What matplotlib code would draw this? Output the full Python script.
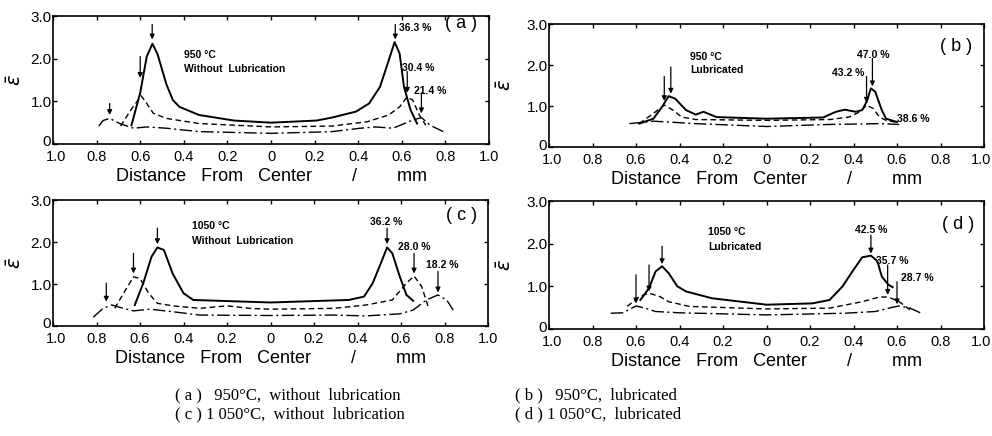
import matplotlib
matplotlib.use("Agg")
import matplotlib.pyplot as plt
from matplotlib.transforms import ScaledTranslation

# ---------------- data ----------------
xticks = [-1.0, -0.8, -0.6, -0.4, -0.2, 0.0, 0.2, 0.4, 0.6, 0.8, 1.0]
xticklabels = ["1.0", "0.8", "0.6", "0.4", "0.2", "0", "0.2", "0.4", "0.6", "0.8", "1.0"]
yticks = [0, 1.0, 2.0, 3.0]
yticklabels = ["0", "1.0", "2.0", "3.0"]

# (a) 950 C, without lubrication
a_solid_x = [-0.64, -0.60, -0.57, -0.544, -0.52, -0.48, -0.45, -0.42, -0.33, -0.17, 0.0, 0.21, 0.28, 0.39, 0.45, 0.50, 0.54, 0.567, 0.59, 0.61, 0.64, 0.67]
a_solid_y = [0.44, 1.20, 2.05, 2.35, 2.10, 1.40, 1.03, 0.87, 0.68, 0.55, 0.50, 0.55, 0.62, 0.76, 0.95, 1.34, 1.96, 2.39, 2.12, 1.34, 0.80, 0.48]
a_dash_x = [-0.69, -0.64, -0.595, -0.57, -0.54, -0.48, -0.33, 0.0, 0.28, 0.44, 0.54, 0.59, 0.624, 0.65, 0.68, 0.71]
a_dash_y = [0.42, 0.82, 1.13, 0.95, 0.72, 0.60, 0.48, 0.40, 0.42, 0.52, 0.68, 0.87, 1.10, 1.03, 0.68, 0.44]
a_dd_x = [-0.79, -0.77, -0.74, -0.69, -0.63, -0.57, -0.48, -0.33, 0.0, 0.28, 0.41, 0.48, 0.56, 0.65, 0.69, 0.73, 0.79]
a_dd_y = [0.42, 0.55, 0.60, 0.47, 0.37, 0.40, 0.37, 0.29, 0.25, 0.29, 0.37, 0.40, 0.37, 0.56, 0.62, 0.44, 0.29]

# (b) 950 C, lubricated
b_solid_x = [-0.585, -0.52, -0.48, -0.45, -0.42, -0.37, -0.325, -0.29, -0.23, 0.0, 0.26, 0.32, 0.36, 0.41, 0.44, 0.46, 0.48, 0.50, 0.53, 0.55, 0.60]
b_solid_y = [0.57, 0.69, 0.98, 1.24, 1.18, 0.90, 0.79, 0.86, 0.73, 0.69, 0.72, 0.86, 0.91, 0.86, 0.90, 1.10, 1.43, 1.35, 0.90, 0.69, 0.61]
b_dash_x = [-0.585, -0.52, -0.47, -0.43, -0.39, -0.325, 0.0, 0.29, 0.38, 0.43, 0.46, 0.49, 0.52, 0.55, 0.60]
b_dash_y = [0.57, 0.82, 1.02, 0.90, 0.73, 0.67, 0.65, 0.67, 0.73, 0.86, 1.02, 0.94, 0.73, 0.65, 0.60]
b_dd_x = [-0.63, -0.52, -0.325, 0.0, 0.29, 0.52, 0.61]
b_dd_y = [0.57, 0.63, 0.57, 0.50, 0.55, 0.57, 0.55]

# (c) 1050 C, without lubrication
c_solid_x = [-0.624, -0.585, -0.547, -0.52, -0.49, -0.45, -0.40, -0.355, 0.0, 0.36, 0.43, 0.47, 0.51, 0.536, 0.56, 0.595, 0.625, 0.656]
c_solid_y = [0.50, 1.02, 1.65, 1.87, 1.81, 1.25, 0.78, 0.62, 0.56, 0.62, 0.70, 1.02, 1.53, 1.87, 1.73, 1.17, 0.74, 0.60]
c_dash_x = [-0.716, -0.68, -0.63, -0.60, -0.56, -0.52, -0.45, -0.325, -0.2, -0.095, 0.0, 0.29, 0.44, 0.56, 0.625, 0.66, 0.695, 0.725]
c_dash_y = [0.42, 0.74, 1.17, 1.13, 0.78, 0.54, 0.48, 0.42, 0.48, 0.42, 0.40, 0.42, 0.50, 0.62, 1.02, 1.19, 0.94, 0.46]
c_dd_x = [-0.815, -0.77, -0.73, -0.69, -0.63, -0.555, -0.45, -0.325, 0.0, 0.29, 0.44, 0.595, 0.656, 0.717, 0.77, 0.81, 0.84]
c_dd_y = [0.21, 0.42, 0.50, 0.44, 0.36, 0.40, 0.34, 0.26, 0.25, 0.26, 0.24, 0.29, 0.38, 0.62, 0.74, 0.62, 0.38]

# (d) 1050 C, lubricated
d_solid_x = [-0.58, -0.54, -0.51, -0.48, -0.45, -0.41, -0.37, -0.25, 0.0, 0.21, 0.29, 0.35, 0.395, 0.44, 0.48, 0.51, 0.53, 0.56, 0.58]
d_solid_y = [0.68, 0.96, 1.35, 1.47, 1.31, 1.00, 0.88, 0.72, 0.57, 0.60, 0.68, 1.00, 1.35, 1.68, 1.72, 1.59, 1.23, 1.04, 0.98]
d_dash_x = [-0.64, -0.585, -0.54, -0.49, -0.45, -0.355, 0.0, 0.29, 0.44, 0.52, 0.56, 0.61, 0.66]
d_dash_y = [0.53, 0.76, 0.84, 0.76, 0.64, 0.53, 0.47, 0.49, 0.64, 0.75, 0.75, 0.64, 0.45]
d_dd_x = [-0.716, -0.66, -0.60, -0.56, -0.51, -0.40, 0.0, 0.36, 0.50, 0.58, 0.61, 0.66, 0.72]
d_dd_y = [0.37, 0.38, 0.54, 0.49, 0.41, 0.38, 0.33, 0.37, 0.41, 0.51, 0.54, 0.49, 0.35]

panel_letters = ["a", "b", "c", "d"]
panel_temps = ["950 °C", "950 °C", "1050 °C", "1050 °C"]
panel_conds = ["Without  Lubrication", "Lubricated", "Without  Lubrication", "Lubricated"]

# reduction marks: (arrow x, arrow top y, arrow tip y, label)
a_marks = [(-0.74, 0.95, 0.68, None), (-0.60, 2.05, 1.55, None), (-0.545, 2.80, 2.45, None),
           (0.57, 2.80, 2.45, "36.3 %"), (0.625, 1.70, 1.20, "30.4 %"), (0.69, 1.20, 0.72, "21.4 %")]
a_label_pos = {"36.3 %": (0.585, 2.72, "left"), "30.4 %": (0.60, 1.78, "left"), "21.4 %": (0.655, 1.25, "left")}
b_marks = [(-0.47, 1.72, 1.12, None), (-0.44, 1.95, 1.30, None),
           (0.46, 1.72, 1.08, "43.2 %"), (0.487, 2.16, 1.48, "47.0 %"), (None, None, None, "38.6 %")]
b_label_pos = {"43.2 %": (0.45, 1.80, "right"), "47.0 %": (0.49, 2.25, "center"), "38.6 %": (0.60, 0.68, "left")}
c_marks = [(-0.755, 1.02, 0.58, None), (-0.63, 1.73, 1.25, None), (-0.52, 2.33, 1.95, None),
           (0.536, 2.33, 1.95, "36.2 %"), (0.66, 1.73, 1.25, "28.0 %"), (0.77, 1.30, 0.80, "18.2 %")]
c_label_pos = {"36.2 %": (0.53, 2.48, "center"), "28.0 %": (0.66, 1.88, "center"), "18.2 %": (0.79, 1.45, "center")}
d_marks = [(-0.60, 1.27, 0.60, None), (-0.54, 1.50, 0.88, None), (-0.48, 1.94, 1.52, None),
           (0.48, 2.20, 1.77, "42.5 %"), (0.557, 1.50, 0.80, "35.7 %"), (0.60, 1.11, 0.58, "28.7 %")]
d_label_pos = {"42.5 %": (0.48, 2.33, "center"), "35.7 %": (0.58, 1.60, "center"), "28.7 %": (0.62, 1.20, "left")}

captions = ["( a )   950°C,  without  lubrication", "( b )   950°C,  lubricated",
            "( c ) 1 050°C,  without  lubrication", "( d ) 1 050°C,  lubricated"]

# ---------------- figure ----------------
W, H = 992, 436
fig = plt.figure(figsize=(W / 100, H / 100), dpi=100)
plt.rcParams['font.family'] = ['Liberation Sans', 'DejaVu Sans']

boxes = [(53, 16, 489, 144), (549, 24, 984, 147), (53, 200, 488, 326), (549, 201, 984, 329)]
series = [
    (a_solid_x, a_solid_y, a_dash_x, a_dash_y, a_dd_x, a_dd_y, a_marks, a_label_pos),
    (b_solid_x, b_solid_y, b_dash_x, b_dash_y, b_dd_x, b_dd_y, b_marks, b_label_pos),
    (c_solid_x, c_solid_y, c_dash_x, c_dash_y, c_dd_x, c_dd_y, c_marks, c_label_pos),
    (d_solid_x, d_solid_y, d_dash_x, d_dash_y, d_dd_x, d_dd_y, d_marks, d_label_pos),
]
text_pos = [(-0.40, 2.08, 1.75), (-0.35, 2.20, 1.88), (-0.36, 2.38, 2.03), (-0.27, 2.28, 1.93)]
letter_pos = [(0.87, 2.82), (0.87, 2.45), (0.88, 2.62), (0.88, 2.45)]

for i, (l, t, r, b) in enumerate(boxes):
    ax = fig.add_axes([l / W, 1 - b / H, (r - l) / W, (b - t) / H])
    sx, sy, dx, dy, ddx, ddy, marks, lpos = series[i]
    ax.plot(sx, sy, color='black', lw=1.4, ls='-')
    ax.plot(dx, dy, color='black', lw=1.0, ls=(0, (4, 2.5)))
    ax.plot(ddx, ddy, color='black', lw=1.0, ls=(0, (9, 2.5, 1.5, 2.5)))
    ax.set_xlim(-1, 1)
    ax.set_ylim(0, 3.0)
    ax.set_xticks(xticks)
    ax.set_xticklabels(xticklabels, fontsize=10.5)
    ax.set_yticks(yticks)
    ax.set_yticklabels(yticklabels, fontsize=11)
    ax.tick_params(direction='in', length=3, width=1.0, top=True, right=True)
    ax.tick_params(axis='x', pad=4)
    ax.tick_params(axis='y', pad=1)
    # nudge the corner labels so they do not collide
    xl = ax.get_xticklabels()
    xl[0].set_transform(xl[0].get_transform() + ScaledTranslation(3 / 100, 0, fig.dpi_scale_trans))
    if i in (1, 3):
        xl[-1].set_transform(xl[-1].get_transform() + ScaledTranslation(-3 / 100, 0, fig.dpi_scale_trans))
    yl = ax.get_yticklabels()
    yl[0].set_transform(yl[0].get_transform() + ScaledTranslation(-1 / 100, 3 / 100, fig.dpi_scale_trans))
    for sp in ax.spines.values():
        sp.set_linewidth(1.2)
    ax.set_xlabel("Distance   From   Center        /        mm", fontsize=13, labelpad=3)
    ax.set_ylabel(r"$\bar{\varepsilon}$", fontsize=14, labelpad=4 if i in (0, 2) else 8)
    tx, ty1, ty2 = text_pos[i]
    ax.text(tx, ty1, panel_temps[i], fontsize=7.5, fontweight='bold', ha='left', va='center')
    ax.text(tx, ty2, panel_conds[i], fontsize=7.5, fontweight='bold', ha='left', va='center')
    lx, ly = letter_pos[i]
    ax.text(lx, ly, "( %s )" % panel_letters[i], fontsize=13, ha='center', va='center')
    for (mx, top, tip, lab) in marks:
        if mx is not None:
            ax.annotate("", xy=(mx, tip), xytext=(mx, top),
                        arrowprops=dict(arrowstyle='-|>', color='black', lw=0.9,
                                        mutation_scale=7, shrinkA=0, shrinkB=0))
        if lab is not None:
            px, py, ha = lpos[lab]
            ax.text(px, py, lab, fontsize=7.5, fontweight='bold', ha=ha, va='center')

cap_font = ['Liberation Serif', 'DejaVu Serif']
fig.text(175 / W, 1 - 395 / H, captions[0], fontsize=12, family=cap_font, va='center', ha='left')
fig.text(515 / W, 1 - 395 / H, captions[1], fontsize=12, family=cap_font, va='center', ha='left')
fig.text(175 / W, 1 - 414 / H, captions[2], fontsize=12, family=cap_font, va='center', ha='left')
fig.text(515 / W, 1 - 414 / H, captions[3], fontsize=12, family=cap_font, va='center', ha='left')

fig.savefig("out.png", dpi=100)
